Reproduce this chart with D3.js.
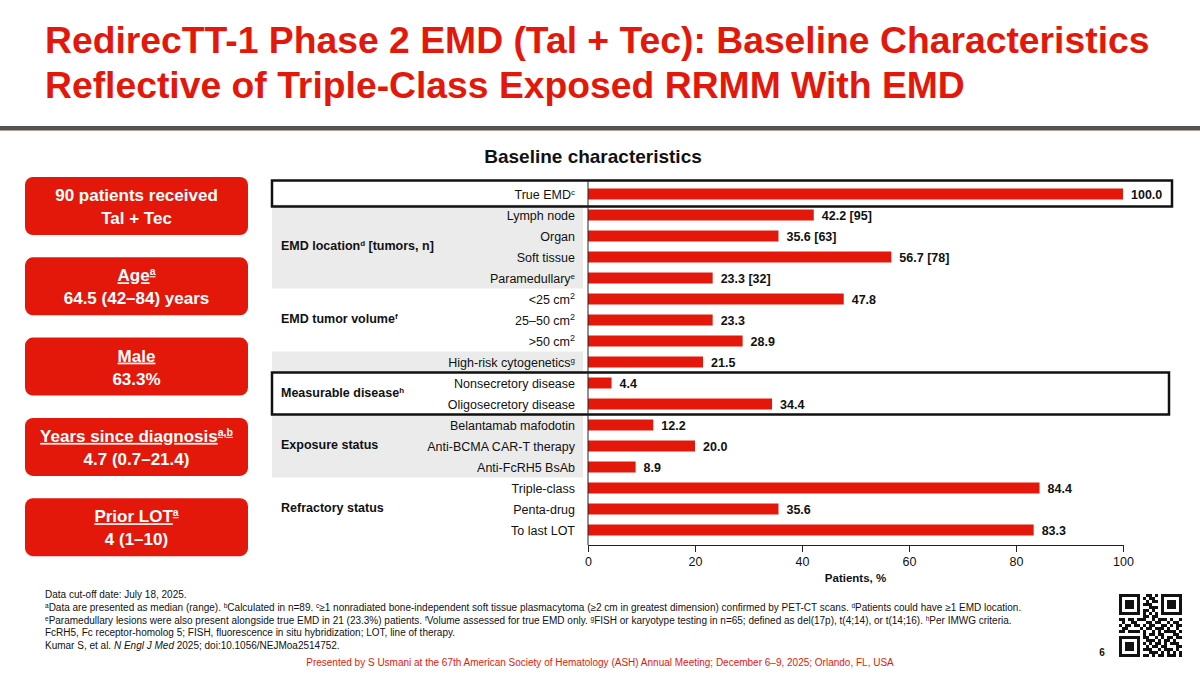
<!DOCTYPE html>
<html lang="en">
<head>
  <meta charset="UTF-8">
  <title>RedirecTT-1 Phase 2 EMD Baseline Characteristics</title>
  <script src="https://d3js.org/d3.v7.min.js"></script>
  <style>
    body { margin: 0; background: #fff; }
    svg { font-family: "Liberation Sans", Arial, sans-serif; display: block; }
    .val { font-family: "Liberation Sans Narrow", "Arial Narrow", "Liberation Sans", Arial, sans-serif; font-weight: bold; font-size: 12.5px; }
    .cat { font-size: 12.5px; fill: #111; }
    .grp { font-size: 12.5px; font-weight: bold; fill: #111; }
    .foot { font-size: 10px; fill: #111; }
  </style>
</head>
<body>
  <svg width="1200" height="675"></svg>
  <script>
    // categories (label text, superscript)
    const categories = [
      "True EMD", "Lymph node", "Organ", "Soft tissue", "Paramedullary",
      "<25 cm", "25\u201350 cm", ">50 cm", "High-risk cytogenetics",
      "Nonsecretory disease", "Oligosecretory disease",
      "Belantamab mafodotin", "Anti-BCMA CAR-T therapy", "Anti-FcRH5 BsAb",
      "Triple-class", "Penta-drug", "To last LOT"
    ];
    const catSup = ["c", "", "", "", "e", "2", "2", "2", "g", "", "", "", "", "", "", "", ""];
    const values = [100.0, 42.2, 35.6, 56.7, 23.3, 47.8, 23.3, 28.9, 21.5, 4.4, 34.4, 12.2, 20.0, 8.9, 84.4, 35.6, 83.3];
    const tumorCounts = [null, 95, 63, 78, 32, null, null, null, null, null, null, null, null, null, null, null, null];
    const xTicks = [0, 20, 40, 60, 80, 100];

    // row groups: [first row, last row]
    const groupNames = ["", "EMD location", "EMD tumor volume", "", "Measurable disease", "Exposure status", "Refractory status"];
    const groupSup = ["", "d", "f", "", "h", "", ""];
    const groupSuffix = ["", " [tumors, n]", "", "", "", "", ""];
    const groupRows = [[0, 0], [1, 4], [5, 7], [8, 8], [9, 10], [11, 13], [14, 16]];
    const groupShaded = [false, true, false, true, false, true, false];
    const groupBoxed = [true, false, false, false, true, false, false];

    // left summary boxes
    const statTitles = ["90 patients received", "Age", "Male", "Years since diagnosis", "Prior LOT"];
    const statSups = ["", "a", "", "a,b", "a"];
    const statValues = ["Tal + Tec", "64.5 (42\u201384) years", "63.3%", "4.7 (0.7\u201321.4)", "4 (1\u201310)"];

    const red = "#e3180b";
    const svg = d3.select("svg");

    // title
    const title = svg.append("text")
      .attr("x", 45).attr("y", 53)
      .attr("fill", red).attr("font-weight", "bold").attr("font-size", 37.3);
    title.append("tspan").attr("x", 45).text("RedirecTT-1 Phase 2 EMD (Tal + Tec): Baseline Characteristics");
    title.append("tspan").attr("x", 45).attr("dy", 45).text("Reflective of Triple-Class Exposed RRMM With EMD");

    svg.append("rect").attr("x", 0).attr("y", 126).attr("width", 1200).attr("height", 4).attr("fill", "#57524d");
    svg.append("rect").attr("x", 0).attr("y", 130).attr("width", 1200).attr("height", 1).attr("fill", "#a9a5a0");

    svg.append("text")
      .attr("x", 593).attr("y", 163)
      .attr("text-anchor", "middle")
      .attr("font-weight", "bold").attr("font-size", 19)
      .attr("fill", "#111")
      .text("Baseline characteristics");

    // left boxes
    const boxG = svg.append("g");
    statTitles.forEach((t, i) => {
      const top = 177 + i * 80.3;
      boxG.append("rect")
        .attr("x", 25).attr("y", top).attr("width", 223).attr("height", 58)
        .attr("rx", 8).attr("fill", red);
      const t1 = boxG.append("text")
        .attr("x", 136.5).attr("y", top + 24)
        .attr("text-anchor", "middle")
        .attr("fill", "#fff").attr("font-weight", "bold").attr("font-size", 17);
      if (i > 0) t1.attr("text-decoration", "underline");
      t1.append("tspan").text(t);
      if (statSups[i]) t1.append("tspan").attr("font-size", 10.5).attr("baseline-shift", "super").text(statSups[i]);
      boxG.append("text")
        .attr("x", 136.5).attr("y", top + 47)
        .attr("text-anchor", "middle")
        .attr("fill", "#fff").attr("font-weight", "bold").attr("font-size", 17)
        .text(statValues[i]);
    });

    // chart scales
    const x = d3.scaleLinear().domain([0, 100]).range([588, 1123]);
    const y = d3.scaleBand().domain(d3.range(categories.length)).range([183.5, 540.5]).padding(0);
    const barH = 11;
    const axisY = 545;

    const chart = svg.append("g");

    // shaded group bands
    groupRows.forEach((r, gi) => {
      if (!groupShaded[gi]) return;
      chart.append("rect")
        .attr("x", 272).attr("width", 311)
        .attr("y", y(r[0])).attr("height", y(r[1]) + y.bandwidth() - y(r[0]))
        .attr("fill", "#ebebeb");
    });

    // bars
    chart.selectAll("rect.bar")
      .data(values)
      .join("rect")
      .attr("class", "bar")
      .attr("x", x(0))
      .attr("y", (d, i) => y(i) + (y.bandwidth() - barH) / 2)
      .attr("width", d => x(d) - x(0))
      .attr("height", barH)
      .attr("fill", red);

    // value labels
    chart.selectAll("text.val")
      .data(values)
      .join("text")
      .attr("class", "val")
      .attr("x", d => x(d) + 8)
      .attr("y", (d, i) => y(i) + y.bandwidth() / 2 + 4.5)
      .attr("fill", "#111")
      .text((d, i) => d.toFixed(1) + (tumorCounts[i] != null ? "  [" + tumorCounts[i] + "]" : ""));

    // category labels
    const catText = chart.selectAll("text.cat")
      .data(categories)
      .join("text")
      .attr("class", "cat")
      .attr("x", 575)
      .attr("y", (d, i) => y(i) + y.bandwidth() / 2 + 4.5)
      .attr("text-anchor", "end");
    catText.append("tspan").text(d => d);
    catText.append("tspan")
      .attr("font-size", (d, i) => catSup[i] === "2" ? 9 : 8)
      .attr("baseline-shift", "super")
      .text((d, i) => catSup[i]);

    // group labels
    groupRows.forEach((r, gi) => {
      if (!groupNames[gi]) return;
      const cy = (y(r[0]) + y(r[1]) + y.bandwidth()) / 2;
      const g = chart.append("text")
        .attr("class", "grp")
        .attr("x", 281)
        .attr("y", cy + 3);
      g.append("tspan").text(groupNames[gi]);
      if (groupSup[gi]) g.append("tspan").attr("font-size", 8).attr("baseline-shift", "super").text(groupSup[gi]);
      if (groupSuffix[gi]) g.append("tspan").text(groupSuffix[gi]);
    });

    // boxed groups
    groupRows.forEach((r, gi) => {
      if (!groupBoxed[gi]) return;
      const top = y(r[0]) - (r[0] === 0 ? 3 : 0);
      const bottom = y(r[1]) + y.bandwidth() + (r[0] === 0 ? 2 : 0);
      chart.append("rect")
        .attr("x", 272).attr("y", top)
        .attr("width", r[0] === 0 ? 900 : 897)
        .attr("height", bottom - top)
        .attr("fill", "none")
        .attr("stroke", "#111").attr("stroke-width", 2.5);
    });

    // y axis line
    chart.append("line")
      .attr("x1", x(0)).attr("x2", x(0))
      .attr("y1", 181).attr("y2", axisY)
      .attr("stroke", "#222").attr("stroke-width", 1);

    // x axis
    const xAxis = chart.append("g")
      .attr("transform", `translate(0,${axisY})`)
      .call(d3.axisBottom(x).tickValues(xTicks).tickSize(7).tickSizeOuter(0).tickFormat(d3.format("d")));
    xAxis.select(".domain").attr("stroke", "#222");
    xAxis.selectAll(".tick line").attr("stroke", "#222");
    xAxis.selectAll(".tick text")
      .attr("font-family", "'Liberation Sans Narrow', 'Arial Narrow', 'Liberation Sans', Arial, sans-serif")
      .attr("font-size", 12.5).attr("fill", "#111").attr("dy", "0.9em");

    chart.append("text")
      .attr("x", (x(0) + x(100)) / 2).attr("y", 582)
      .attr("text-anchor", "middle")
      .attr("font-weight", "bold").attr("font-size", 11.5).attr("fill", "#111")
      .text("Patients, %");

    // footnotes
    const foot = svg.append("g");
    const sup = (t, s) => t.append("tspan").attr("font-size", 6.5).attr("baseline-shift", "super").text(s);
    let f = foot.append("text").attr("class", "foot").attr("x", 45).attr("y", 598);
    f.text("Data cut-off date: July 18, 2025.");

    f = foot.append("text").attr("class", "foot").attr("x", 45).attr("y", 611);
    sup(f, "a"); f.append("tspan").text("Data are presented as median (range). ");
    sup(f, "b"); f.append("tspan").text("Calculated in n=89. ");
    sup(f, "c"); f.append("tspan").text("\u22651 nonradiated bone-independent soft tissue plasmacytoma (\u22652 cm in greatest dimension) confirmed by PET-CT scans. ");
    sup(f, "d"); f.append("tspan").text("Patients could have \u22651 EMD location.");

    f = foot.append("text").attr("class", "foot").attr("x", 45).attr("y", 623.5);
    sup(f, "e"); f.append("tspan").text("Paramedullary lesions were also present alongside true EMD in 21 (23.3%) patients. ");
    sup(f, "f"); f.append("tspan").text("Volume assessed for true EMD only. ");
    sup(f, "g"); f.append("tspan").text("FISH or karyotype testing in n=65; defined as del(17p), t(4;14), or t(14;16). ");
    sup(f, "h"); f.append("tspan").text("Per IMWG criteria.");

    foot.append("text").attr("class", "foot").attr("x", 45).attr("y", 636)
      .text("FcRH5, Fc receptor-homolog 5; FISH, fluorescence in situ hybridization; LOT, line of therapy.");

    f = foot.append("text").attr("class", "foot").attr("x", 45).attr("y", 648.5);
    f.append("tspan").text("Kumar S, et al. ");
    f.append("tspan").attr("font-style", "italic").text("N Engl J Med");
    f.append("tspan").text(" 2025; doi:10.1056/NEJMoa2514752.");

    svg.append("text")
      .attr("x", 600).attr("y", 666)
      .attr("text-anchor", "middle")
      .attr("font-size", 10).attr("fill", red)
      .text("Presented by S Usmani at the 67th American Society of Hematology (ASH) Annual Meeting; December 6\u20139, 2025; Orlando, FL, USA");

    svg.append("text")
      .attr("x", 1102).attr("y", 656)
      .attr("text-anchor", "middle")
      .attr("font-weight", "bold").attr("font-size", 10).attr("fill", "#111")
      .text("6");

    // QR code decoration
    const qrRows = [
      "111111100110101111111",
      "100000101011001000001",
      "101110100101101011101",
      "101110101110001011101",
      "101110100011101011101",
      "100000101101001000001",
      "111111101010101111111",
      "000000001101100000000",
      "110110111001011101001",
      "010011000110110010110",
      "101101101011001101011",
      "011000010110111010010",
      "110111101001010111101",
      "000000001011011000110",
      "111111101100101011011",
      "100000100111010110100",
      "101110101010110101110",
      "101110100101101100011",
      "101110101110010111010",
      "100000100011101010101",
      "111111101101011011101"
    ];
    const qrCell = 3;
    const qr = svg.append("g").attr("transform", "translate(1119,594)");
    qrRows.forEach((row, r) => {
      row.split("").forEach((b, c) => {
        if (b === "1") qr.append("rect")
          .attr("x", c * qrCell).attr("y", r * qrCell)
          .attr("width", qrCell).attr("height", qrCell)
          .attr("fill", "#111");
      });
    });
  </script>
</body>
</html>
